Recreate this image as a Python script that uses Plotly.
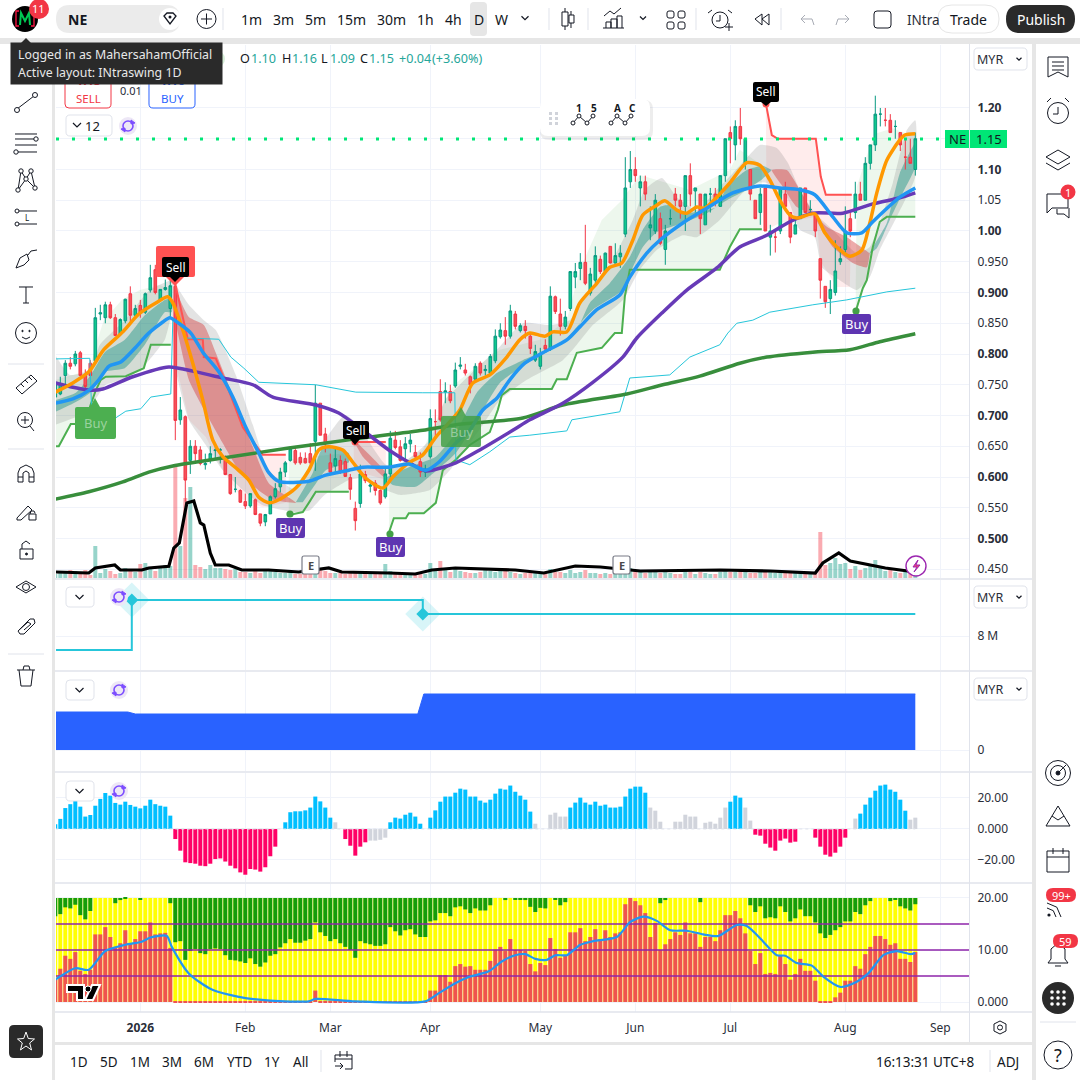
import plotly.graph_objects as go

# ---------- data ----------
MONTH_IDX = [17, 38, 55, 75, 97, 116, 135, 158, 177]
MONTH_TXT = ["<b>2026</b>", "Feb", "Mar", "Apr", "May", "Jun", "Jul", "Aug", "Sep"]

opens = [.73,.735,.765,.785,.784,.802,.765,.785,.789,.865,
 .859,.88,.859,.832,.854,.898,.863,.879,.868,.904,
 .937,.887,.905,.874,.91,.693,.698,.627,.65,.644,
 .62,.627,.643,.644,.633,.604,.58,.578,.56,.553,
 .563,.54,.527,.54,.568,.584,.608,.627,.643,.632,
 .63,.638,.658,.72,.67,.623,.618,.627,.625,.599,
 .549,.557,.604,.585,.59,.578,.568,.605,.66,.649,
 .646,.654,.64,.625,.608,.633,.69,.739,.738,.739,
 .748,.78,.774,.763,.759,.785,.773,.769,.789,.828,
 .838,.829,.865,.838,.845,.829,.79,.78,.814,.809,
 .893,.865,.845,.874,.925,.939,.949,.899,.92,.954,
 .934,.975,.948,.958,.995,1.08,1.10,1.07,1.08,1.005,
 1.0,1.02,.97,1.02,1.06,1.05,1.04,1.09,1.065,1.06,
 1.01,1.06,1.06,1.04,1.09,1.16,1.14,1.17,1.11,1.10,
 1.05,1.03,1.07,.99,.99,1.0,1.06,1.03,.995,1.02,
 1.07,1.035,1.03,.955,.91,.89,.90,.95,.97,1.02,
 1.03,1.06,1.05,1.11,1.14,1.19,1.18,1.18,1.17,1.16,
 1.12,1.12,1.10]
highs = [.76,.763,.79,.795,.805,.805,.775,.79,.875,.88,
 .885,.885,.865,.858,.89,.91,.88,.888,.90,.945,
 .945,.905,.921,.92,.92,.73,.70,.66,.66,.65,
 .638,.65,.65,.647,.635,.605,.60,.58,.573,.573,
 .565,.54,.54,.57,.59,.615,.626,.65,.65,.64,
 .64,.655,.75,.72,.68,.638,.65,.635,.63,.605,
 .56,.62,.61,.595,.595,.58,.615,.675,.675,.66,
 .665,.67,.652,.64,.62,.71,.71,.759,.754,.75,
 .786,.795,.784,.765,.785,.788,.782,.80,.84,.85,
 .86,.88,.87,.85,.855,.835,.815,.81,.824,.91,
 .895,.89,.87,.935,.948,.964,1.01,.94,.975,.96,
 .965,.975,.98,.977,1.12,1.13,1.12,1.09,1.09,1.04,
 1.06,1.03,1.01,1.035,1.07,1.06,1.09,1.11,1.07,1.06,
 1.06,1.07,1.07,1.09,1.15,1.17,1.18,1.20,1.15,1.10,
 1.05,1.07,1.07,1.01,1.0,1.07,1.08,1.03,1.02,1.07,
 1.07,1.05,1.03,.955,.91,.92,.985,.975,1.04,1.03,
 1.08,1.08,1.12,1.14,1.22,1.20,1.20,1.19,1.18,1.16,
 1.15,1.15,1.16]
lows = [.72,.733,.745,.775,.78,.765,.74,.76,.785,.855,
 .85,.857,.83,.83,.85,.85,.859,.859,.865,.90,
 .897,.885,.903,.858,.66,.685,.56,.605,.622,.619,
 .612,.622,.628,.622,.603,.571,.575,.558,.548,.55,
 .538,.52,.52,.54,.565,.575,.60,.625,.62,.62,
 .622,.622,.61,.668,.64,.605,.608,.605,.60,.563,
 .513,.55,.59,.575,.57,.555,.565,.595,.645,.625,
 .625,.64,.63,.60,.60,.63,.665,.69,.72,.72,
 .745,.775,.765,.736,.755,.765,.765,.765,.785,.825,
 .815,.825,.84,.835,.825,.80,.787,.775,.803,.805,
 .865,.83,.84,.87,.907,.92,.912,.895,.915,.93,
 .93,.947,.947,.94,.99,1.07,1.08,1.04,1.05,.985,
 .995,.977,.945,1.01,1.04,1.02,1.0,1.04,1.03,.995,
 1.01,1.03,1.04,1.04,1.08,1.11,1.115,1.14,1.10,1.05,
 1.02,1.01,1.0,.96,.965,.995,1.04,.98,.995,1.02,
 1.03,1.03,.99,.89,.875,.865,.895,.945,.96,.99,
 1.02,1.05,1.05,1.10,1.13,1.17,1.17,1.16,1.15,1.13,
 1.10,1.11,1.09]
closes = [.75,.752,.785,.78,.80,.765,.747,.765,.859,.867,
 .88,.859,.83,.856,.889,.863,.874,.868,.898,.924,
 .90,.905,.908,.911,.692,.709,.595,.65,.638,.622,
 .622,.638,.644,.644,.604,.573,.58,.559,.553,.573,
 .539,.525,.539,.568,.581,.608,.623,.646,.623,.623,
 .623,.623,.72,.668,.654,.608,.63,.608,.601,.58,
 .529,.605,.594,.587,.578,.558,.605,.663,.648,.627,
 .654,.66,.633,.608,.613,.695,.69,.693,.74,.724,
 .774,.782,.769,.75,.78,.769,.775,.796,.829,.839,
 .829,.87,.845,.846,.838,.809,.804,.80,.808,.894,
 .869,.845,.86,.934,.934,.949,.915,.93,.96,.934,
 .964,.948,.96,.964,1.07,1.10,1.09,1.08,1.06,1.01,
 1.05,.98,1.0,1.02,1.05,1.04,1.09,1.06,1.07,1.02,
 1.06,1.06,1.05,1.09,1.15,1.15,1.17,1.15,1.15,1.06,
 1.02,1.06,1.0,1.0,.99,1.07,1.04,.99,1.01,1.07,
 1.03,1.035,1.0,.92,.885,.905,.935,.955,1.0,1.0,
 1.06,1.05,1.11,1.14,1.19,1.19,1.18,1.16,1.17,1.14,
 1.12,1.11,1.15]
volume = [4,6,5,8,7,4,8,3,32,5,
 9,7,4,5,10,8,6,14,15,9,
 7,10,13,12,112,32,80,91,13,11,
 9,13,10,10,9,8,9,6,6,5,
 7,5,7,7,6,5,5,6,4,4,
 5,4,11,8,7,5,5,5,4,5,
 6,6,4,4,5,4,14,7,5,4,
 4,5,5,4,4,15,9,17,8,6,
 10,7,6,5,5,6,9,7,6,7,
 10,6,5,4,5,5,5,4,4,9,
 6,6,5,8,5,6,8,5,5,4,
 5,4,5,4,14,10,7,6,5,7,
 6,5,6,5,4,4,7,6,4,6,
 5,4,4,6,8,6,6,7,7,5,
 5,6,8,7,5,7,5,5,6,5,
 5,4,6,46,13,15,20,14,15,9,
 12,8,10,13,18,10,7,8,6,5,
 6,5,6]
vol_ma_i = [0,6.7,8,11.9,13,17.3,18.7,22.7,23.7,24.8,26.3,27.7,29,29.7,31,32,34.7,37.3,42.7,48.7,54.7,57.3,66.7,72,75.3,80,92,97.7,104,109,117,133,143,152,153.5,156.7,159,162,166,172]
vol_ma = [6,5,10,13,8,8,10,11.7,30,35,75,77,55,53,25,13,13,8,8,6,10,6,5,4,8,10,8,5,12,11,7,8,7,5,15,25,17,14,10,6]

orange_i = [0,3.5,6.7,9.7,13.5,16.7,20.1,22.5,23.5,25.5,27.5,29.5,31.5,33.5,36.1,38.7,40.7,42.7,44.7,48.1,50.7,52.7,54.7,57.5,59.5,62.1,65.5,67.5,70.7,73.5,76.1,78.7,80.9,83.5,86.9,90.3,92.9,94.9,97.9,99.5,102.3,104.9,108.3,110.9,113.3,115.5,117.5,120.3,121.9,124.3,126.3,128.3,129.9,132.3,134.9,138.3,140.9,142.9,144.9,146.9,148.3,151.9,153.9,156.3,158.9,161.3,162.9,164.3,166.3,168.9,169.9,172]
orange_p = [.738,.753,.771,.807,.836,.865,.883,.893,.883,.839,.785,.725,.660,.633,.615,.595,.567,.558,.563,.582,.611,.644,.649,.644,.624,.598,.582,.600,.623,.636,.665,.688,.709,.753,.766,.795,.823,.834,.829,.836,.836,.883,.915,.941,.948,.985,1.026,1.042,1.049,1.034,1.029,1.039,1.037,1.055,1.078,1.111,1.107,1.083,1.050,1.026,1.021,1.028,.997,.974,.959,.969,1.013,1.062,1.115,1.148,1.156,1.158]
blue_i = [0,3.5,6.7,8.7,10.7,13.1,16.1,18.7,21.5,22.9,24.7,27.1,29.5,32.7,35.5,38.1,40.7,42.7,44.7,50.7,54.1,58.7,61.5,66.7,70.7,74.1,76.7,80.1,82.9,85.5,88.3,90.9,93.9,97.5,102.3,104.9,108.3,112.9,114.9,118.3,120.9,125.5,130.3,135.5,140.9,144.9,148.9,151.9,155.5,158.3,161.3,163.5,168.9,172]
blue_p = [.720,.727,.741,.758,.780,.787,.811,.834,.852,.859,.850,.834,.803,.771,.730,.681,.639,.607,.593,.593,.603,.611,.616,.616,.621,.611,.624,.655,.676,.709,.728,.758,.785,.802,.823,.844,.872,.896,.925,.964,.985,1.013,1.037,1.062,1.073,1.070,1.067,1.059,1.023,.997,.997,1.015,1.055,1.070]
purple_i = [0,3.5,7.1,9.5,15.5,22.7,28.1,33.5,39.5,43.5,52.1,56.7,61.5,66.7,70.7,74.1,80.1,84.9,91.5,94.9,101.5,107.5,113.5,116.3,121.5,126.3,132.3,136.9,142.3,146.9,151.5,157.5,163.5,168.9,172]
purple_p = [.753,.746,.741,.743,.763,.779,.771,.761,.750,.730,.717,.704,.676,.644,.624,.610,.623,.644,.676,.693,.720,.754,.795,.826,.868,.904,.940,.974,.993,1.015,1.029,1.029,1.044,1.054,1.062]
sma_i = [0,6.7,13.5,18.7,23.5,33.5,46.7,60.1,73.5,80.1,93.5,101.5,114.3,121.5,128.9,136.9,142.3,151.5,158.9,164.9,172]
sma_p = [.564,.576,.592,.608,.618,.631,.647,.662,.676,.685,.696,.717,.735,.750,.764,.785,.795,.803,.807,.820,.833]
cyan_i = [0,6.9,7.3,7.7,11.5,14.1,17.1,19.1,23.1,23.5,24.7,26.1,32.7,35.1,37.7,40.7,52.1,60.1,73.5,79.9,80.1,82.9,86.9,90.9,94.9,102.3,103.3,112.9,114.9,122.9,126.9,132.9,134.5,136.3,139.5,142.9,151.5,158.3,166.3,172]
cyan_p = [.792,.793,.701,.681,.693,.707,.711,.730,.735,.855,.852,.826,.824,.795,.777,.754,.750,.738,.737,.737,.628,.620,.641,.665,.668,.675,.693,.706,.761,.766,.795,.815,.834,.850,.855,.868,.880,.888,.901,.907]

# stop lines: (line index, line price, band edge index, band edge price)
g1_i=[0,.7,3.1,5.7,8.1,9.1,10.1,14.1,17.7,19.1,23.1]; g1_p=[.650,.650,.686,.686,.741,.758,.763,.764,.777,.815,.815]
g1e_i=[0,6.9,8.1,9.7,13.3,16.9,20.9,23.1]; g1e_p=[.758,.774,.815,.855,.888,.904,.912,.904]
g2_i=[46.7,49.5,50.7,52.1,58.7]; g2_p=[.538,.543,.558,.576,.576]
g2e_i=[46.7,50.7,58.7]; g2e_p=[.628,.633,.639]
g3_i=[66.7,67.7,70.1,70.7,73.7,76.1,77.5,80.1,82.9,86.9,88.5,89.3,90.9,99.3,100.3,102.3,104.3,109.3,111.9,113.3,113.9,114.9,132.9,134.9,136.9,141.3]
g3_p=[.509,.533,.533,.541,.541,.558,.611,.628,.652,.673,.709,.733,.743,.743,.759,.759,.802,.810,.834,.834,.893,.937,.937,.974,1.003,1.003]
g3e_i=[66.9,73.5,78.9,80.9,88.9,96.9,102.3,104.9,109.3,113.3,116.9,126.9,134.9,136.9,141.3]
g3e_p=[.611,.644,.741,.758,.807,.823,.855,.937,1.018,1.050,1.091,1.067,1.099,1.132,1.107]
g4_i=[160.1,161.5,162.3,163.5,164.9,166.3,172]; g4_p=[.870,.907,.920,.974,1.015,1.023,1.023]
g4e_i=[160.1,160.3,162.9,164.3,167.5,172]; g4e_p=[.920,1.072,1.137,1.159,1.167,1.153]
ra_i=[23.9,26.5,29.5,29.7,32.1,34.7,37.5,41.5,46.1]; ra_p=[.917,.824,.824,.795,.793,.741,.681,.636,.636]
rae_i=[24.1,26.7,30.1,33.5,37.5,41.5,46.1]; rae_p=[.785,.693,.665,.611,.563,.551,.558]
rb_i=[59.7,66.1]; rb_p=[.657,.657]
rbe_i=[59.7,66.1]; rbe_p=[.611,.595]
rc_i=[142.1,143.3,144.5,152.1,153.1,154.1,159.3]; rc_p=[1.208,1.156,1.150,1.150,1.088,1.059,1.059]
rce_i=[142.3,144.9,152.3,152.9,156.3,158.9]; rce_p=[1.002,1.013,1.023,.953,.909,.909]

# ribbons: upper then lower edge
t1=([0,4.1,7.1,9.9,13.9,17.9,21.9,23.3],[.725,.737,.766,.803,.823,.863,.888,.891],[0,4.1,7.1,9.9,13.9,17.9,21.9,23.3],[.706,.722,.738,.771,.777,.815,.868,.868])
r1=([24.1,26.7,29.7,32.1,36.1,39.5,42.7,48.1],[.904,.860,.847,.802,.720,.649,.590,.559],[24.1,26.7,30.1,33.5,36.7,40.1,43.5,48.1],[.850,.758,.704,.655,.611,.582,.563,.558])
t2=([48.1,51.5,53.5,58.7],[.559,.607,.647,.639],[49.5,51.5,54.1,58.7],[.559,.582,.611,.624])
r2=([59.7,66.1],[.660,.607],[59.7,61.5,66.1],[.660,.633,.598])
t3=([66.1,70.7,76.1,80.1,84.3,88.3,93.5,103.5,106.9,110.9,114.9,117.5,120.9,122.9,125.5,128.3,132.3,134.3,138.3,141.5,143.3],
    [.598,.616,.633,.672,.737,.769,.790,.828,.883,.915,.958,1.002,1.039,1.042,1.029,1.031,1.039,1.072,1.099,1.106,1.099],
    [66.1,67.5,72.1,74.7,80.1,85.5,88.9,94.3,101.5,104.3,107.5,113.5,115.5,117.5,120.3,125.5,130.3,134.3,138.3,141.5,143.3],
    [.598,.587,.584,.600,.639,.709,.753,.785,.818,.844,.872,.904,.941,.974,.998,1.013,1.029,1.050,1.067,1.085,1.099])
r3=([143.3,146.3,148.9,151.5],[1.099,1.099,1.067,1.029],[143.3,145.5,148.3,151.5],[1.099,1.072,1.039,1.028])
r4=([151.9,154.3,158.3,162.9],[1.026,1.007,.990,.964],[151.9,152.5,155.5,159.5,162.3,162.9],[1.026,1.013,.974,.948,.941,.964])
t4=([162.9,166.3,168.9,172],[.964,1.013,1.094,1.143],[162.9,164.3,166.9,169.5,172],[.964,.972,1.018,1.062,1.104])
gray_up_i=[0,2.9,7.1,8.9,13.9,18.9,23.3,24.1,26.7,29.7,32.1,36.1,39.5,42.7,48.1,50.9,53.9,57.9,60.1,66.1,68.9,74.9,77.9,80.9,84.9,88.3,93.5,98.9,102.9,106.9,110.9,115.5,117.9,121.3,124.3,128.3,132.3,135.5,138.3,140.9,144.3,146.5,148.9,151.9,155.5,160.3,162.9,164.9,167.5,170.3,172]
gray_up_p=[.798,.766,.774,.815,.855,.904,.920,.912,.880,.855,.839,.766,.685,.611,.579,.620,.660,.701,.689,.620,.620,.660,.725,.750,.782,.807,.850,.847,.855,.904,.945,1.018,1.067,1.086,1.055,1.034,1.067,1.094,1.119,1.140,1.135,1.111,1.067,1.029,1.002,.964,.974,1.013,1.078,1.164,1.180]
gray_lo_i=[0,4.9,7.9,10.1,13.9,17.9,21.9,23.3,24.1,26.7,30.1,33.5,37.5,41.5,48.1,50.9,53.9,58.7,60.9,66.1,68.9,74.9,78.9,81.9,85.5,88.9,94.3,101.5,104.3,107.5,113.5,116.9,120.3,125.5,128.3,132.9,137.5,140.3,142.3,146.3,148.9,151.9,153.3,156.9,160.3,162.9,164.9,168.3,172]
gray_lo_p=[.685,.701,.725,.750,.758,.782,.823,.863,.774,.693,.652,.611,.579,.554,.543,.546,.571,.595,.598,.579,.571,.579,.611,.644,.685,.725,.758,.790,.815,.847,.888,.937,.969,.993,.990,1.018,1.062,1.078,1.078,1.055,1.002,.990,.941,.920,.904,.925,.969,1.023,1.088]

# pane 2 / pane 3 levels
level_i=[0,15.3,15.3,73.5,73.5,172]; level_v=[7.0,7.0,10.57,10.57,9.57,9.57]
area_i=[0,14.5,16,72.5,73.7,172]; area_v=[38,38,36,36,56,56]

# pane 4 histogram
hist=[3,6.5,13.5,16,20,14.4,8,9,15,19.4,
 23.2,21.5,16.8,15.7,17.6,15.5,14.4,13.3,15,18.9,
 16,15,14.4,8.6,-6.5,-14,-21.5,-22,-22.4,-23.7,
 -24,-22.4,-19.4,-19,-21,-23.7,-25.4,-28,-29.5,-25.8,
 -26.2,-27.5,-24.7,-17.6,-11.4,0,4.3,10.8,11.4,11.4,
 12,13.8,20.9,17.8,13.8,7.3,4.3,0,-6.5,-10.8,
 -17.2,-11.4,-8.6,-7.5,-7.5,-7,-5.6,4.3,7.3,6.7,
 9.2,10.5,8,3.4,0,7.3,12,17.6,20.9,20.9,
 23.4,26,25.4,20.9,20.9,18.3,17,18.9,22.8,26,
 25.4,28,24,21.5,18.9,11.2,3.4,0,0,9.2,
 10.5,8,8,13.8,17,20.2,17,15.7,17.6,15,
 15.7,13.8,13.8,14.4,20.9,26,27.3,27.3,23.4,13.8,
 11.8,4.7,0,0,4.7,4.7,9.2,8,8,0,
 4,4.7,3.4,7.3,13.8,17.6,21.5,20.2,13.8,5.4,
 -3.7,-4.3,-9.5,-12,-14,-7.5,-6.2,-8.8,-8.2,0,
 0,0,-5.6,-11.4,-16.6,-17.8,-15.3,-11.4,-5.6,0,
 6.7,9.9,15.7,20.2,24.7,28,28.6,25.4,24,18.9,
 11.8,6,7.3]
hist_neutral=[56,63,64,65,66,96,99,100,101,102,119,120,121,124,125,126,127,128,130,131,132,133,134,138,139,160,171,172]

# pane 5
red_level=[4.3,6.4,8.9,8.3,9.6,6,5.4,6.2,13,13,
 14.4,12.5,10.6,11.3,13.8,11.3,12.1,13.6,13.6,15.3,
 13,13.2,13.3,10.4,.1,.1,.1,.1,.1,.1,
 .1,.1,.1,.1,.1,.1,.1,.1,.1,.1,
 .1,.1,.1,.1,.1,.1,.1,.1,.1,.1,
 .1,.1,2.2,.1,.1,.1,.1,.1,.1,.1,
 .1,.1,.1,.1,.1,.1,.1,.1,.1,.1,
 .1,.1,.1,.1,.1,2.2,2.2,5.2,5.2,3.9,
 6.9,7.3,6.8,6.9,6.2,6.2,6.2,7.9,10.1,10.6,
 9.8,12.1,10,10,9.8,7.3,5.9,7.5,7.1,12.3,
 10.2,8.5,8.9,13.4,13.4,14.2,11.7,12.5,14,12.1,
 13.8,12.5,13.2,13.4,18.8,20,19.4,18.6,17.1,12.5,
 15.2,10,11.1,12.1,13.4,12.9,15.3,13.2,13.2,10.6,
 12.5,12.5,11.7,13.8,16.7,16.7,17.5,16.1,13.2,9.8,
 7.3,9.4,5.4,5.6,5.4,9,7.3,4.3,5.4,8.3,
 6,6,4.1,.1,.1,.1,.9,1.8,4.1,4.1,
 6.9,6.4,9.2,10.6,12.7,12.7,12.1,11,11.3,8.3,
 8.3,7.7,9.6]
green_level=[16.5,16.9,18.2,18,18.7,16.7,15.9,17.5,20,20,
 20,20,19,19.6,19.9,20,20,19.7,20,20,
 20,20,20,19,11.5,11.7,8.1,9.8,10.2,9.4,
 9.2,10.2,10.3,10.2,9,8.1,8,7.8,7.5,8.4,
 7.3,6.8,7.6,8.9,9.2,10.5,11.3,12.1,11.4,11.4,
 11.8,12.1,15.3,13.4,12.7,11.7,12.1,11.3,10.6,10,
 8.5,11.7,11.3,11.1,10.8,10.8,11.1,14.4,13.6,12.8,
 13.8,14,13,12.5,12.5,15.5,15.7,17.1,17.1,16.5,
 18.2,18.4,17.8,17.1,18,17.6,17.6,18.6,20,20,
 19.6,20,19.7,19.7,19.6,18.3,17.3,18.1,18,20,
 19.7,18.6,19.2,20,20,20,20,20,20,20,
 20,20,20,20,20,20,20,20,20,20,
 20,19,19.6,20,20,20,20,20,20,19.2,
 20,20,20,20,20,20,20,20,20,18.6,
 17.3,18.4,16.1,16.3,16.1,18.4,17.3,15.5,16.1,17.8,
 16.5,16.5,15.3,13.2,12.3,12.9,13.8,14.4,15.5,15.5,
 17.3,16.9,18.6,19.4,20,20,20,19.4,19.7,18.4,
 18,17.6,18.8]
rsi_i=[0,4,6.7,10,14,17.3,19,22.3,23.3,26.7,31.3,36.7,43,50.7,52,60,74,76.7,80,82.7,86.7,89.3,92,94,96,98.3,100,102.3,105,107.6,112.3,115,117.6,120.3,123,126.3,129.6,132.6,136.3,138.3,141.6,144.3,146,148.3,151.3,153.6,157,160.3,162.6,165.6,168.3,171,172]
rsi_v=[4.3,6.5,6.2,9.8,11,11.6,12.4,12.7,10.6,5.5,2.4,1,.25,.13,.6,.13,.13,1.7,3.6,4.8,5.9,7.8,9,9.2,8.3,8.1,9,9,11,11.7,12.5,15.4,16.4,15.6,13.8,13.7,13,12.7,14.8,14.6,11.6,9,8.9,7.5,7,4.9,2.9,3.9,5.5,9,9.8,9.2,9.4]
rsi_levels=[5,10,15]

PRICE_TICKS=[1.20,1.15,1.10,1.05,1.00,.95,.90,.85,.80,.75,.70,.65,.60,.55,.50,.45]
PRICE_TXT=["<b>1.20</b>","","<b>1.10</b>","1.05","<b>1.00</b>","0.950","<b>0.900</b>","0.850","<b>0.800</b>","0.750","<b>0.700</b>","0.650","<b>0.600</b>","0.550","<b>0.500</b>","0.450"]
LAST_PRICE=1.15

# ---------- styling ----------
FONT="Noto Sans"; INK="#131722"; GRID="#f0f3fa"; SEP="#e6e6e6"
UP_F="#10c98d"; UP_L="#089981"; DN_F="#f4525a"; DN_L="#f23645"
N=len(closes); idx=list(range(N))
def fy(py): return 1-py/1080
def fx(px): return px/1080
def dom(top,bot): return [fy(bot),fy(top)]
MAIN=dom(45,578)

fig=go.Figure()
def poly_band(up_i,up_p,lo_i,lo_p,color,yaxis="y2",smooth=False):
    line=dict(width=0,shape="spline",smoothing=.5) if smooth else dict(width=0)
    fig.add_trace(go.Scatter(x=up_i+lo_i[::-1],y=up_p+lo_p[::-1],mode="lines",fill="toself",
        fillcolor=color,line=line,yaxis=yaxis,hoverinfo="skip"))

# volume base
vol_col=["rgba(8,153,129,.42)" if c>=o else "rgba(242,54,69,.42)" for o,c in zip(opens,closes)]
fig.add_trace(go.Bar(x=idx,y=volume,marker=dict(color=vol_col,line_width=0),width=.8,yaxis="y"))

# bands
GREEN_FILL="rgba(76,175,80,.10)"; PINK="rgba(255,82,82,.11)"
for a,b,c,d in [(g1_i,g1_p,g1e_i,g1e_p),(g2_i,g2_p,g2e_i,g2e_p),(g3_i,g3_p,g3e_i,g3e_p),(g4_i,g4_p,g4e_i,g4e_p)]:
    poly_band(c,d,a,b,GREEN_FILL)
for a,b,c,d in [(ra_i,ra_p,rae_i,rae_p),(rb_i,rb_p,rbe_i,rbe_p),(rc_i,rc_p,rce_i,rce_p)]:
    poly_band(a,b,c,d,PINK)
poly_band(gray_up_i,gray_up_p,gray_lo_i,gray_lo_p,"rgba(90,90,90,.17)",smooth=True)
for r in (t1,t2,t3,t4):
    poly_band(r[0],r[1],r[2],r[3],"rgba(0,137,123,.40)",smooth=True)
for r in (r1,r2,r3,r4):
    poly_band(r[0],r[1],r[2],r[3],"rgba(210,45,45,.40)",smooth=True)

# candles + lines
fig.add_trace(go.Candlestick(x=idx,open=opens,high=highs,low=lows,close=closes,yaxis="y3",
    increasing=dict(fillcolor=UP_F,line=dict(color=UP_L,width=1)),
    decreasing=dict(fillcolor=DN_F,line=dict(color=DN_L,width=1)),whiskerwidth=0,hoverinfo="skip"))
def ln(x,y,color,w,yaxis="y3",shape="linear",dash="solid"):
    line=dict(color=color,width=w,shape=shape,dash=dash)
    if shape=="spline": line["smoothing"]=.7
    fig.add_trace(go.Scatter(x=x,y=y,mode="lines",line=line,yaxis=yaxis,hoverinfo="skip"))
for a,b in [(g1_i,g1_p),(g2_i,g2_p),(g3_i,g3_p),(g4_i,g4_p)]:
    ln(a,b,"#4caf50",2)
for a,b in [(ra_i,ra_p),(rb_i,rb_p),(rc_i,rc_p)]:
    ln(a,b,"#ff5252",2)
ln(cyan_i,cyan_p,"#26c6da",1)
ln(sma_i,sma_p,"#388e3c",3.5,shape="spline")
ln(purple_i,purple_p,"#673ab7",3.5,shape="spline")
ln(orange_i,orange_p,"#ff9800",3.5,shape="spline")
ln(blue_i,blue_p,"#2196f3",3.5,shape="spline")
# volume MA on top
ln(vol_ma_i,vol_ma,"#000000",3.2,yaxis="y8")

# pane 2
ln(level_i,level_v,"#26c6da",2,yaxis="y4")
sig_i=[level_i[1],level_i[3]]; sig_v=[level_v[2],level_v[4]]
fig.add_trace(go.Scatter(x=sig_i,y=sig_v,mode="markers",yaxis="y4",hoverinfo="skip",
    marker=dict(symbol="diamond",size=27,color="rgba(38,198,218,.18)",line_width=0)))
fig.add_trace(go.Scatter(x=sig_i,y=sig_v,mode="markers",yaxis="y4",hoverinfo="skip",
    marker=dict(symbol="diamond",size=10,color="#26c6da",line_width=0)))
# pane 3
fig.add_trace(go.Scatter(x=area_i,y=area_v,mode="lines",fill="tozeroy",fillcolor="#2962ff",line=dict(color="#2962ff",width=1),yaxis="y5",hoverinfo="skip"))
# pane 4
ln([0,172],[0,0],"#e0e3eb",1,yaxis="y6",dash="3px,3px")
hcol=["#d1d4dc" if i in hist_neutral else ("#00bfff" if v>0 else "#ff0066") for i,v in enumerate(hist)]
fig.add_trace(go.Bar(x=idx,y=hist,marker=dict(color=hcol,line_width=0),width=.8,yaxis="y6"))
# pane 5
fig.add_trace(go.Bar(x=idx,y=[20]*N,marker=dict(color="#ffff00",line_width=0),width=.8,yaxis="y7"))
fig.add_trace(go.Bar(x=idx,y=[20-g for g in green_level],base=green_level,marker=dict(color="#149c0c",line_width=0),width=.8,yaxis="y7"))
fig.add_trace(go.Bar(x=idx,y=red_level,marker=dict(color="#ef5350",line_width=0),width=.8,yaxis="y7"))
XMIN,XMAX=.14,182.74
for lv in rsi_levels:
    ln([XMIN,XMAX],[lv,lv],"#8e24aa",1.5,yaxis="y7")
ln(rsi_i,rsi_v,"#2196f3",2.2,yaxis="y7",shape="spline")

# ---------- UI helpers ----------
shapes=[]; notes=[]
def path(pts,color=INK,w=1,fill=None,close=False):
    d="M "+" L ".join(f"{fx(x):.5f} {fy(y):.5f}" for x,y in pts)+(" Z" if close else "")
    shapes.append(dict(type="path",path=d,xref="paper",yref="paper",line=dict(color=color,width=w) if w else dict(width=0),fillcolor=fill,layer="above"))
def rrect(x0,y0,x1,y1,fill=None,color=None,w=1,r=0):
    if fill is None and color is None: color=INK
    if r==0:
        pts=f"M {fx(x0):.5f} {fy(y0):.5f} L {fx(x1):.5f} {fy(y0):.5f} L {fx(x1):.5f} {fy(y1):.5f} L {fx(x0):.5f} {fy(y1):.5f} Z"
    else:
        a=lambda x,y:f"{fx(x):.5f} {fy(y):.5f}"
        pts=(f"M {a(x0+r,y0)} L {a(x1-r,y0)} Q {a(x1,y0)} {a(x1,y0+r)} L {a(x1,y1-r)} Q {a(x1,y1)} {a(x1-r,y1)} "
             f"L {a(x0+r,y1)} Q {a(x0,y1)} {a(x0,y1-r)} L {a(x0,y0+r)} Q {a(x0,y0)} {a(x0+r,y0)} Z")
    shapes.append(dict(type="path",path=pts,xref="paper",yref="paper",fillcolor=fill,
        line=dict(color=color,width=w) if color else dict(width=0),layer="above"))
def circ(cx,cy,r,fill=None,color=INK,w=1):
    shapes.append(dict(type="circle",xref="paper",yref="paper",x0=fx(cx-r),x1=fx(cx+r),y0=fy(cy+r),y1=fy(cy-r),
        fillcolor=fill,line=dict(color=color,width=w) if color else dict(width=0),layer="above"))
def txt(x,y,s,size=13,color=INK,anchor="center",font=FONT,**kw):
    notes.append(dict(x=fx(x),y=fy(y),xref="paper",yref="paper",text=s,showarrow=False,xanchor=anchor,yanchor="middle",
        font=dict(family=font,size=size,color=color),borderpad=0,borderwidth=0,**kw))
def chev(x,y,s=4,color=INK):
    path([(x-s,y-s/2),(x,y+s/2),(x+s,y-s/2)],color=color,w=1.2)
def refresh(x,y):
    circ(x,y,9,fill="#ede7f6",color=None)
    circ(x,y,5,color="#7c4dff",w=1.6)
    path([(x+3,y-6),(x+7,y-3),(x+3,y-2)],color="#7c4dff",w=1,fill="#7c4dff",close=True)
    path([(x-3,y+6),(x-7,y+3),(x-3,y+2)],color="#7c4dff",w=1,fill="#7c4dff",close=True)

# frames
rrect(0,38,1080,44,fill=SEP)
rrect(52,44,55,1080,fill=SEP)
rrect(1032,44,1036,1080,fill=SEP)
rrect(55,1042,1032,1045,fill=SEP)
for yy in (579,671,772,883,1012):
    path([(55,yy),(1032,yy)],color="#e0e3eb",w=1.5)
path([(969.5,44),(969.5,1042)],color="#e0e3eb",w=1)

# price line
path([(56,139),(969,139)],color="#00e676",w=3)
shapes[-1]["line"]["dash"]="3px,13px"
rrect(945,130,969,148,fill="#00e676"); rrect(970,130,1007,148,fill="#00e676")
txt(957,139.5,"NE",13); txt(988.5,139.5,f"{LAST_PRICE:.2f}",13)

# signals
def pointer_label(x0,y0,x1,y1,tipx,tipy,fill,label,color="#ffffff",size=12):
    rrect(x0,y0,x1,y1,fill=fill,r=2)
    if tipy<y0:
        path([(tipx-5,y0),(tipx,tipy),(tipx+5,y0)],color=fill,w=0,fill=fill,close=True)
    else:
        path([(tipx-5,y1),(tipx,tipy),(tipx+5,y1)],color=fill,w=0,fill=fill,close=True)
    txt((x0+x1)/2,(y0+y1)/2,label,size,color)
rrect(156,246,195,277,fill="#ff5252",r=2)
path([(166,277),(175,286),(184,277)],color="#ff5252",w=0,fill="#ff5252",close=True)
pointer_label(162,257,189,277,175,282,"#000000","Sell")
circ(355,442,3.5,fill="#ff5252",color=None)
pointer_label(343,421,369,439,355,445,"#000000","Sell")
circ(766,104,3.5,fill="#ff5252",color=None)
pointer_label(753,82,779,102,766,106,"#000000","Sell")
pointer_label(75,407,116,439,95,398,"#4caf50","Buy",color="rgba(255,255,255,.45)",size=13)
pointer_label(441,416,481,447,461,407,"rgba(67,160,71,.85)","Buy",color="rgba(255,255,255,.42)",size=13)
for cx,cy,x0,y0 in [(290,514,276,518),(390,534,376,537),(856,311,842,314)]:
    circ(cx,cy,3.6,fill="#43a047",color=None)
    rrect(x0,y0,x0+29,y0+20,fill="#5e35b1",r=2)
    txt(x0+14.5,y0+10,"Buy",13,"#ffffff")
for x0 in (302,613):
    rrect(x0,556,x0+17,574,fill="#ffffff",color="#787b86",w=1.2,r=2)
    txt(x0+8.5,565,"<b>E</b>",11,"#4a4a4a")
circ(916,566,10,fill="#ffffff",color="#9c27b0",w=1.4)
path([(918,560),(913,567),(917,567),(914,572),(920,565),(916,565)],color="#9c27b0",w=1,fill="#ec407a",close=True)

# TradingView logo
logo_w=[(67,985),(84,985),(84,1000),(77,1000),(77,992),(67,992)]
path(logo_w,color="#ffffff",w=2,fill="#000000",close=True)
path([(92,985),(100,985),(93,1000),(85,1000)],color="#ffffff",w=2,fill="#000000",close=True)
circ(88,989,3,fill="#000000",color="#ffffff",w=1)

# pane controls
for yy in (597,690,791):
    rrect(66,yy-10,94,yy+10,fill="#ffffff",color="#e0e3eb",w=1,r=4)
    chev(79.5,yy,4); refresh(119,yy)
rrect(66,115,112,136,fill="#ffffff",color="#e0e3eb",w=1,r=4)
chev(77,125,4); txt(92,126,"12",13); refresh(128,126)
for yt in (48,586,678):
    rrect(974,yt,1027,yt+22,fill="#ffffff",color="#e0e3eb",w=1,r=4)
    txt(989.5,yt+11.5,"MYR",12.5,"#2a2e39"); chev(1019,yt+11,2.5)

# order buttons
rrect(65,76,111,108,fill="#ffffff",color="#f23645",w=1,r=4)
rrect(149,76,195,108,fill="#ffffff",color="#2962ff",w=1,r=4)
txt(88,81,"<b>1.15</b>",12.5,"#f23645"); txt(172,81,"<b>1.16</b>",12.5,"#2962ff")
txt(88,98.5,"SELL",11.5,"#f23645"); txt(172,98.5,"BUY",11.5,"#2962ff"); txt(131,90,"0.01",11,"#2a2e39")

# legend row
circ(216,59,9,fill="#d8efd9",color=None)
for x,s,c in [(240,"O",INK),(251,"1.10","#26a69a"),(282,"H",INK),(292,"1.16","#26a69a"),(321,"L",INK),(330,"1.09","#26a69a"),(360,"C",INK),(369,"1.15","#26a69a"),(399,"+0.04","#26a69a"),(432,"(+3.60%)","#26a69a")]:
    txt(x,59,s,12.6,c,anchor="left")

# tool widget
rrect(540,100,653,140,fill="rgba(0,0,0,.07)",r=9)
rrect(540,99,650,136,fill="#ffffff",r=8)
for dx in (0,6):
    for dy in (0,5,10):
        rrect(549+dx,112+dy,552+dx,115+dy,fill="#d0d3da")
for off,a,b in ((0,"1","5"),(38,"A","C")):
    pts=[(573+off,123),(579+off,116),(587+off,123),(593+off,116)]
    path(pts,w=1)
    for p in pts: circ(p[0],p[1],2,fill="#ffffff",w=1)
    txt(579+off,108,f"<b>{a}</b>",10); txt(594+off,108,f"<b>{b}</b>",10)

# top bar
rrect(56,5,180,33,fill="#ebebeb",r=14)
circ(170,19,11,fill="#ffffff",color=None)
path([(164,16),(167,13),(173,13),(176,16),(170,24)],w=1.3,close=True); circ(170,17,1.5,fill=INK,color=None)
txt(77,19.5,"<b>NE</b>",14)
circ(25,19,13,fill="#000000",color=None)
path([(20,25),(21,13),(25,21),(29,13),(30,25)],color="#00c853",w=2)
path([(19,11),(16,11),(16,26),(19,26)],color="#ff1744",w=1.3); path([(31,11),(34,11),(34,26),(31,26)],color="#ff1744",w=1.3)
circ(39,9,10,fill="#f23645",color=None); txt(39,9,"11",11,"#ffffff")
circ(206.5,19,9.5); path([(201,19),(212,19)]); path([(206.5,13.5),(206.5,24.5)])
path([(223,8),(223,30)],color="#e0e3eb")
rrect(470,2,487,36,fill="#e6e6e6",r=4)
for x,s in [(251,"1m"),(283,"3m"),(315,"5m"),(351,"15m"),(391,"30m"),(425,"1h"),(453,"4h"),(478.5,"D"),(501,"W")]:
    txt(x,19.5,s,14)
chev(525,18,3.5)
path([(549,8),(549,30)],color="#e0e3eb")
path([(565,8),(565,30)]); rrect(562,12,568,26,fill="#ffffff",color=INK); path([(571,11),(571,28)]); rrect(569,15,574,23,fill="#ffffff",color=INK)
path([(588,8),(588,30)],color="#e0e3eb")
path([(606,28),(606,22),(611,22),(611,28)]); path([(611,28),(611,19),(617,19),(617,28)]); path([(617,28),(617,16),(622,16),(622,28)]); path([(603,28),(624,28)])
path([(604,16),(610,11),(614,14),(621,8)])
chev(643,18,3)
for xx,yy in ((667,11),(678,11),(667,22),(678,22)):
    rrect(xx,yy,xx+7,yy+7,color=INK,r=2)
path([(696,8),(696,30)],color="#e0e3eb")
circ(720,20,8); path([(720,15),(720,21),(716,21)]); path([(712,10),(708,13)]); path([(728,10),(732,13)])
path([(725,27),(733,27)]); path([(729,23),(729,31)])
path([(762,14),(755,19),(762,25),(762,14)]); path([(769,14),(762,19),(769,25),(769,14)])
path([(781,8),(781,30)],color="#e0e3eb")
G="#a8acb5"
path([(801,19),(812,19),(814,25)],color=G); path([(801,19),(805,15)],color=G); path([(801,19),(805,23)],color=G)
path([(849,19),(838,19),(836,25)],color=G); path([(849,19),(845,15)],color=G); path([(849,19),(845,23)],color=G)
rrect(874,11,891,28,color=INK,w=1,r=3)
txt(907,19.5,"INtra",13.5,"#2a2e39",anchor="left")
rrect(938,5,999,33,fill="#ffffff",color="#e6e6e6",w=1,r=14); txt(968.5,19.5,"Trade",14)
rrect(1006,5,1075,33,fill="#2a2a2a",r=14); txt(1040.5,19.5,"Publish",14,"#ffffff")

# left toolbar
path([(17,109),(34,96)]); circ(17,110,2.5,fill="#ffffff"); circ(35,95,2.5,fill="#ffffff")
for yy in (134,139,145,152):
    path([(15,yy),(37,yy)])
circ(36,139,2.2,fill="#ffffff"); circ(16,152,2.2,fill="#ffffff")
for p,q in (((18,190),(26,179)),((26,179),(35,188)),((21,171),(26,179)),((31,171),(26,179)),((18,190),(21,171)),((35,188),(31,171))):
    path([p,q])
for p in ((18,190),(35,188),(21,171),(31,171),(26,179)):
    circ(p[0],p[1],2.2,fill="#ffffff")
path([(17,211),(37,211)]); path([(17,224),(37,224)]); circ(17,211,2,fill="#ffffff"); circ(17,224,2,fill="#ffffff"); txt(27,218,"L",8)
path([(16,268),(20,258),(27,254),(29,260),(24,265),(16,268)]); path([(28,255),(31,251),(37,250)])
path([(19,287),(33,287)]); path([(26,287),(26,303)]); path([(23,303),(29,303)])
circ(26,333,10.5); circ(22.5,331,.7,fill=INK); circ(29.5,331,.7,fill=INK); path([(22,337),(26,339),(30,337)])
for yy in (364,449,654):
    path([(8,yy),(44,yy)],color="#e0e3eb")
path([(16,388),(31,375),(37,381),(22,394)],close=True); path([(21,384),(24,387)]); path([(25,380),(28,383)]); path([(29,377),(32,380)])
circ(25,420,7.5); path([(30,426),(34,431)]); path([(21,420),(29,420)]); path([(25,416),(25,424)])
path([(18,482),(18,473),(20,468),(26,465),(32,468),(34,473),(34,482),(29,482),(29,473),(26,471),(23,473),(23,482)],close=True); path([(18,477),(23,477)]); path([(29,477),(34,477)])
path([(17,518),(28,506),(32,510),(21,520),(17,520)],close=True); rrect(29,514,36,520); path([(30,514),(31,511),(34,511),(35,513)])
rrect(20,549,33,559); path([(22,549),(22,544),(26,541),(30,544)]); circ(26.5,554,1,fill=INK)
path([(16,587),(26,581),(36,587),(26,593)],close=True); circ(26,587,3.5)
path([(19,630),(30,619),(34,619),(35,623),(24,634),(20,634),(18,631),(28,622),(31,624),(24,630)])
path([(17,670),(35,670)]); path([(19,670),(21,686),(31,686),(33,670)]); path([(23,670),(24,666),(29,666),(30,670)])
rrect(9,1025,43,1058,fill="#2a2a2a",r=5)
star=[(26,1032),(28.3,1038.5),(34.5,1039),(29.7,1043),(31.5,1050),(26,1046),(20.5,1050),(22.3,1043),(17.5,1039),(23.7,1038.5)]
path(star,color="#ffffff",close=True)

# right toolbar
path([(1048,57),(1068,57),(1068,77),(1058,72),(1048,77)],close=True)
for yy in (62,66,70): path([(1052,yy),(1064,yy)])
circ(1058,113,10.5); path([(1058,107),(1058,114),(1053,114)]); path([(1047,102),(1051,98)]); path([(1069,102),(1065,98)])
path([(1046,157),(1058,150),(1070,157),(1058,164)],close=True); path([(1046,163),(1058,170),(1070,163)])
path([(1047,194),(1068,194),(1068,208),(1052,208),(1047,213)],close=True); path([(1057,209),(1057,214),(1064,214),(1069,218),(1069,208)])
circ(1068,192,7.5,fill="#f23645",color=None); txt(1068,192,"1",11,"#ffffff")
circ(1058,773,12.5); circ(1058,773,7.5); circ(1058,773,2,fill=INK); path([(1058,773),(1066,765)])
path([(1046,826),(1058,806),(1070,826)],close=True); path([(1052,816),(1058,820),(1064,816)])
rrect(1047,851,1069,872); path([(1047,857),(1069,857)]); path([(1053,848),(1053,854)]); path([(1063,848),(1063,854)])
for r in (14,9):
    path([(1047,903+14-r),(1047+r*.7,903+14-r*.7),(1047+r,917)])
circ(1049,915,1.6,fill=INK,color=None)
rrect(1046,888,1076,902,fill="#f23645",r=7); txt(1061,895,"99+",11,"#ffffff")
path([(1048,963),(1051,959),(1051,949),(1058,943),(1065,949),(1065,959),(1068,963)],close=True); path([(1055,966),(1061,966)])
rrect(1053,934,1078,948,fill="#f23645",r=7); txt(1065,941,"59",11,"#ffffff")
circ(1058,998,16,fill="#2a2a2a",color=None)
for dx in (-6,0,6):
    for dy in (-6,0,6):
        circ(1058+dx,998+dy,1.8,fill="#ffffff",color=None)
path([(1040,1022),(1076,1022)],color="#e0e3eb")
circ(1058,1055,14); txt(1058,1055,"?",18,"#131722")

# time axis gear, bottom bar
path([(1000,1021),(1006,1024),(1006,1031),(1000,1034),(994,1031),(994,1024)],close=True); circ(1000,1027.5,2.5)
for x,s in [(79,"1D"),(109,"5D"),(140,"1M"),(172,"3M"),(204,"6M"),(239,"YTD"),(272,"1Y"),(301,"All")]:
    txt(x,1061.5,s,13.5)
path([(321,1050),(321,1072)],color="#e0e3eb")
path([(335,1055),(352,1055),(352,1069),(345,1069)]); path([(335,1055),(335,1062)]); path([(335,1059),(352,1059)]); path([(340,1051),(340,1057)]); path([(347,1051),(347,1057)])
path([(335,1066),(343,1066)]); path([(340,1063),(343,1066),(340,1069)])
txt(925,1061.5,"16:13:31 UTC+8",13.5); txt(1008,1061.5,"ADJ",13.5)
path([(990,1050),(990,1072)],color="#e0e3eb")

# tooltip
notes.append(dict(x=fx(10),y=fy(63.5),xref="paper",yref="paper",text=" ",showarrow=False,xanchor="left",yanchor="middle",
    width=211,height=41,bgcolor="#2a2a2a",borderpad=0))
path([(21,43),(26,38),(31,43)],color="#2a2a2a",w=0,fill="#2a2a2a",close=True)
txt(18,54.5,"Logged in as MahersahamOfficial",12.35,"#e8e8e8",anchor="left")
txt(18,72.5,"Active layout: INtraswing 1D",12.35,"#e8e8e8",anchor="left")

# ---------- layout ----------
def yax(domain,rng,tv=(),tt=(),**kw):
    d=dict(domain=domain,range=list(rng),side="right",anchor="x",tickvals=list(tv),ticktext=list(tt),showgrid=True,gridcolor=GRID,gridwidth=1,
        zeroline=False,showline=False,ticks="outside",ticklen=5,tickcolor="rgba(0,0,0,0)",tickfont=dict(family=FONT,size=12,color="#2a2e39"))
    d.update(kw); return d
PR=(.4358,1.3024)
VOLR=(0,533)
lay=dict(width=1080,height=1080,margin=dict(l=0,r=0,t=0,b=0),paper_bgcolor="#ffffff",plot_bgcolor="#ffffff",
    showlegend=False,barmode="overlay",boxgap=.25,hovermode=False,font=dict(family=FONT),
    shapes=shapes,annotations=notes,
    xaxis=dict(domain=[fx(56),fx(969)],range=[XMIN,XMAX],anchor="y7",tickvals=MONTH_IDX,ticktext=MONTH_TXT,showgrid=True,gridcolor=GRID,
        ticks="outside",ticklen=5,tickcolor="rgba(0,0,0,0)",tickfont=dict(family=FONT,size=12,color="#2a2e39"),zeroline=False,showline=False,rangeslider=dict(visible=False),tickangle=0),
    yaxis=yax(MAIN,VOLR,visible=False,showgrid=False),
    yaxis2=yax(MAIN,PR,overlaying="y",visible=False,showgrid=False),
    yaxis3=yax(MAIN,PR,PRICE_TICKS,PRICE_TXT,overlaying="y"),
    yaxis8=yax(MAIN,VOLR,overlaying="y",visible=False,showgrid=False),
    yaxis4=yax(dom(580,670),(5.571,12),[8],["8 M"]),
    yaxis5=yax(dom(672,771),(-21,78),[0],["0"]),
    yaxis6=yax(dom(773,882),(-34.2,36.1),[20,0,-20],["20.00","0.000","\u221220.00"]),
    yaxis7=yax(dom(884,1012),(-1.92,22.69),[20,10,0],["20.00","10.00","0.000"]),
)
fig.update_layout(**lay)
fig.write_html("out.html",config=dict(displayModeBar=False,responsive=False),
    post_script="document.body.style.margin='0';document.body.style.overflow='hidden';")
